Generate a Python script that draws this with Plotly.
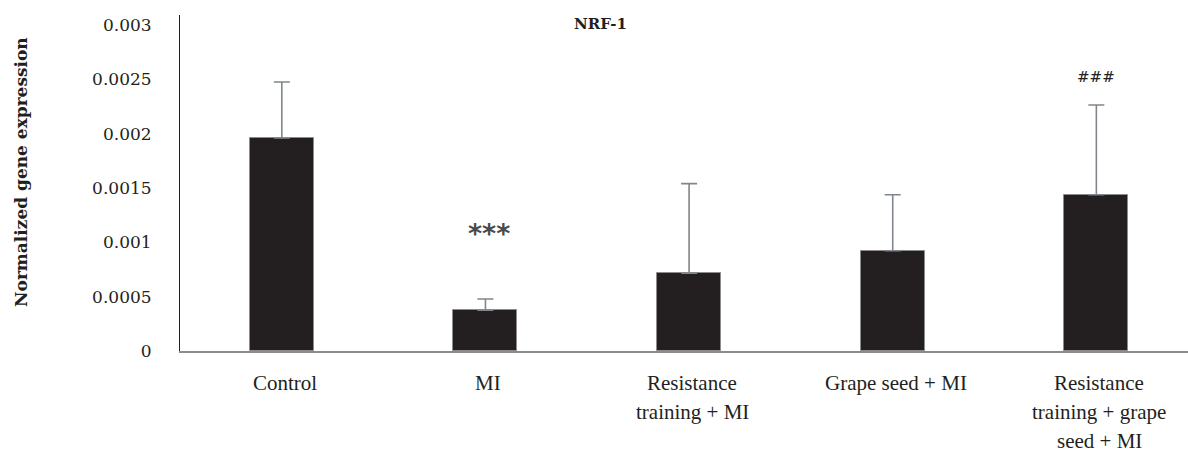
import plotly.graph_objects as go

# NRF-1 normalized expression by group (mean and upper SD)
groups = ["Control", "MI", "Resistance training + MI", "Grape seed + MI",
          "Resistance training + grape seed + MI"]
label_lines = [
    ["Control"],
    ["MI"],
    ["Resistance", "training + MI"],
    ["Grape seed + MI"],
    ["Resistance", "training + grape", "seed + MI"],
]
means = [0.00196, 0.000375, 0.000715, 0.000923, 0.001438]
errors = [0.000515, 0.000104, 0.000825, 0.000515, 0.000826]
y_ticks = [0, 0.0005, 0.001, 0.0015, 0.002, 0.0025, 0.003]
y_tick_text = ["0", "0.0005", "0.001", "0.0015", "0.002", "0.0025", "0.003"]
marks = [("***", 1, 0.00114), ("###", 4, 0.00252)]

x_pos = list(range(len(groups)))
ink = "#231f20"
grey = "#80868b"

# plot area in pixels: left 180, top 15, bottom 351, right 1188
L, T, B, R = 180, 15, 351, 1188


def px_x(px):
    return (px - L) / (R - L)


def px_y(py):
    return (B - py) / (B - T)


fig = go.Figure()
fig.add_trace(go.Bar(
    x=x_pos, y=means, width=0.314,
    marker=dict(color=ink, line=dict(color="#8c8c8c", width=1)),
    error_y=dict(type="data", symmetric=False, array=errors,
                 arrayminus=[0] * len(errors),
                 color=grey, thickness=1.6, width=8),
    showlegend=False, hoverinfo="skip",
))

annotations = []
for i, lines in enumerate(label_lines):
    for j, line in enumerate(lines):
        annotations.append(dict(
            x=i, y=0, xref="x", yref="paper", text=line, showarrow=False,
            xanchor="center", yanchor="middle", yshift=-32 - 29 * j, xshift=3,
            font=dict(family="Liberation Serif", size=21, color=ink),
        ))

star, si, sy = marks[0]
annotations.append(dict(
    x=si, y=sy, xref="x", yref="y", text="<b>" + star + "</b>", showarrow=False,
    xanchor="center", yanchor="middle", yshift=-6, xshift=4,
    font=dict(family="DejaVu Sans", size=27, color="#4a4a4a"),
))
hs, hi, hy = marks[1]
annotations.append(dict(
    x=hi, y=hy, xref="x", yref="y", text=hs, showarrow=False,
    xanchor="center", yanchor="middle",
    font=dict(family="DejaVu Serif", size=15, color=ink),
))
annotations.append(dict(
    x=px_x(600), y=px_y(24), xref="paper", yref="paper", text="<b>NRF-1</b>",
    showarrow=False, xanchor="center", yanchor="middle",
    font=dict(family="DejaVu Serif", size=15, color=ink),
))
annotations.append(dict(
    x=px_x(21), y=px_y(172), xref="paper", yref="paper",
    text="<b>Normalized gene expression</b>", textangle=-90,
    showarrow=False, xanchor="center", yanchor="middle",
    font=dict(family="DejaVu Serif", size=17, color=ink),
))

fig.update_layout(
    width=1188, height=452,
    margin=dict(l=L, r=1188 - R, t=T, b=452 - B),
    paper_bgcolor="white", plot_bgcolor="white",
    bargap=0,
    xaxis=dict(range=[-0.5, 4.45], showticklabels=False, showgrid=False,
               zeroline=False, showline=True, linecolor="#8c8c8c", linewidth=1.5,
               ticks=""),
    yaxis=dict(range=[0, 0.003092], tickvals=y_ticks, ticktext=y_tick_text,
               showgrid=False, zeroline=False, showline=True, linecolor=ink,
               linewidth=1, ticks="", ticklabelstandoff=24,
               tickfont=dict(family="DejaVu Serif", size=17, color=ink)),
    annotations=annotations,
)
fig.write_html("out.html")
